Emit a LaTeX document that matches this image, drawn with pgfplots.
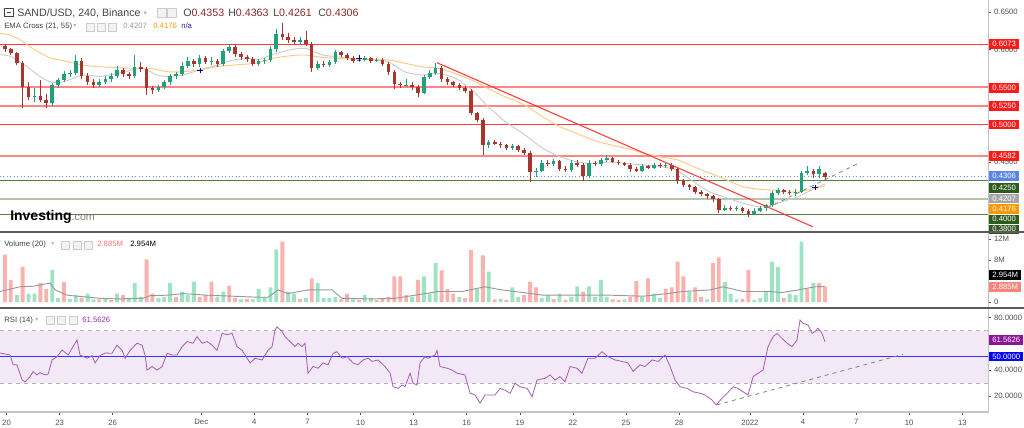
\documentclass[border=0pt]{standalone}
\usepackage{pgfplots}
\pgfplotsset{compat=1.18}
\usepackage{pgfplotstable}
\usepackage{fontspec}
\setmainfont{Liberation Sans}
\newfontfamily\symfont{DejaVu Sans}

\definecolor{cup}{HTML}{22A07A}
\definecolor{cdn}{HTML}{A8352E}
\definecolor{volup}{HTML}{9EE3C3}
\definecolor{voldn}{HTML}{FAB2AE}
\definecolor{emafastc}{HTML}{CBCBCB}
\definecolor{emaslowc}{HTML}{FFC985}
\definecolor{rsicol}{HTML}{A65CB8}
\definecolor{rsiband}{HTML}{F3E8F5}
\definecolor{lvlred}{HTML}{FF3B3B}
\definecolor{lvlpink}{HTML}{FF8585}
\definecolor{lvlgreen}{HTML}{5E7D46}
\definecolor{lvlsage}{HTML}{B6C4AA}
\definecolor{pricebl}{HTML}{6C8EE8}
\definecolor{tickgray}{HTML}{505050}
\definecolor{sepgray}{HTML}{5A5A5A}
\definecolor{framegray}{HTML}{C4C4C4}
\definecolor{valred}{HTML}{8B2A2A}
\definecolor{hdr}{HTML}{444444}
\definecolor{trendgray}{HTML}{7A8A7A}
\definecolor{boxred}{HTML}{FF1A1A}
\definecolor{boxblue}{HTML}{5B86E6}
\definecolor{boxgreen}{HTML}{2F5A1E}
\definecolor{boxgray}{HTML}{A6A6A6}
\definecolor{boxorange}{HTML}{FF9800}
\definecolor{boxsalmon}{HTML}{F8837B}
\definecolor{boxpurple}{HTML}{8E1599}
\definecolor{boxrsiblue}{HTML}{0000FF}
\definecolor{txtgray}{HTML}{9A9A9A}
\definecolor{txtnavy}{HTML}{2A2A9A}
\definecolor{txtsalmon}{HTML}{F4766E}
\definecolor{txtpurple}{HTML}{9C27B0}

\pgfplotstableread{
d o h l c
1.58 .536 .548 .530 .538
2.58 .528 .555 .524 .552
2.91 .552 .562 .549 .559
3.24 .559 .571 .556 .567
3.58 .567 .573 .563 .569
3.91 .569 .593 .566 .585
5.24 .553 .561 .550 .557
5.58 .557 .564 .554 .560
5.91 .560 .568 .557 .565
6.24 .565 .578 .562 .572
7.24 .564 .593 .562 .576
8.58 .546 .553 .543 .550
8.91 .550 .559 .547 .556
9.24 .556 .567 .553 .564
9.58 .564 .570 .561 .567
9.91 .567 .583 .564 .578
10.24 .578 .590 .575 .584
10.91 .580 .592 .577 .588
11.58 .583 .590 .579 .584
12.24 .581 .601 .578 .598
12.58 .598 .607 .595 .603
14.24 .581 .587 .578 .584
14.58 .584 .589 .581 .586
14.91 .586 .604 .583 .600
15.24 .600 .627 .597 .620
16.58 .610 .617 .607 .613
17.58 .575 .584 .572 .581
18.24 .579 .586 .576 .583
18.58 .583 .599 .580 .596
19.91 .585 .589 .583 .586
20.24 .586 .591 .584 .588
20.91 .585 .588 .583 .586
22.58 .552 .561 .550 .553
23.58 .542 .566 .540 .563
23.91 .563 .572 .560 .569
24.24 .569 .582 .566 .575
27.24 .472 .479 .469 .476
28.58 .469 .474 .466 .471
29.91 .437 .442 .430 .438
30.24 .438 .452 .436 .449
30.91 .447 .454 .445 .451
31.91 .439 .452 .437 .449
32.91 .431 .452 .429 .449
33.58 .447 .455 .445 .452
33.91 .452 .459 .450 .455
35.91 .438 .447 .436 .444
36.58 .442 .448 .440 .446
37.24 .444 .448 .442 .446
40.58 .386 .392 .384 .389
41.24 .387 .391 .385 .388
42.24 .381 .388 .379 .385
42.58 .385 .391 .383 .388
42.91 .388 .394 .384 .392
43.24 .392 .411 .390 .408
43.58 .408 .415 .406 .412
44.58 .408 .414 .405 .410
44.91 .410 .438 .408 .435
45.24 .435 .444 .432 .438
45.91 .434 .445 .428 .440
}\candleup

\pgfplotstableread{
d o h l c
-0.09 .604 .607 .597 .600
0.24 .600 .602 .592 .595
0.58 .595 .597 .579 .582
0.91 .582 .584 .522 .550
1.24 .550 .556 .532 .536
1.91 .538 .559 .530 .533
2.24 .533 .540 .522 .528
4.24 .585 .588 .560 .565
4.58 .565 .568 .553 .557
4.91 .557 .560 .549 .553
6.58 .572 .575 .563 .567
6.91 .567 .570 .560 .564
7.58 .576 .583 .570 .574
7.91 .574 .577 .539 .548
8.24 .548 .551 .541 .546
10.58 .584 .587 .576 .580
11.24 .588 .591 .580 .583
11.91 .584 .587 .577 .581
12.91 .603 .606 .590 .594
13.24 .594 .597 .586 .590
13.58 .590 .593 .583 .587
13.91 .587 .590 .578 .581
15.58 .620 .635 .612 .617
15.91 .617 .622 .608 .612
16.24 .612 .616 .606 .610
16.91 .613 .625 .604 .607
17.24 .607 .610 .570 .575
17.91 .581 .584 .576 .579
18.91 .596 .598 .590 .593
19.24 .593 .595 .586 .589
19.58 .589 .591 .582 .585
20.58 .588 .590 .582 .585
21.24 .586 .588 .578 .581
21.58 .581 .583 .566 .570
21.91 .570 .572 .547 .554
22.24 .554 .556 .549 .552
22.91 .553 .556 .546 .550
23.24 .550 .552 .537 .542
24.58 .575 .578 .557 .561
24.91 .561 .563 .553 .556
25.24 .556 .558 .550 .553
25.58 .553 .555 .546 .549
25.91 .549 .551 .542 .545
26.24 .545 .547 .512 .515
26.58 .515 .517 .503 .506
26.91 .506 .508 .459 .472
27.58 .476 .479 .472 .474
27.91 .474 .477 .469 .472
28.24 .472 .474 .466 .469
28.91 .471 .473 .463 .466
29.24 .466 .468 .459 .462
29.58 .462 .464 .423 .437
30.58 .449 .452 .445 .447
31.24 .451 .453 .438 .441
31.58 .441 .444 .437 .439
32.24 .449 .452 .443 .446
32.58 .446 .448 .425 .431
33.24 .449 .451 .445 .447
34.24 .455 .457 .448 .450
34.58 .450 .452 .446 .448
34.91 .448 .450 .445 .446
35.24 .446 .449 .437 .440
35.58 .440 .443 .436 .438
36.24 .444 .446 .440 .442
36.91 .446 .448 .442 .444
37.58 .446 .448 .438 .441
37.91 .441 .443 .421 .425
38.24 .425 .427 .416 .419
38.58 .419 .421 .413 .416
38.91 .416 .418 .407 .410
39.24 .410 .412 .404 .407
39.58 .407 .409 .401 .404
39.91 .404 .406 .397 .400
40.24 .400 .402 .382 .386
40.91 .389 .391 .385 .387
41.58 .388 .390 .382 .385
41.91 .385 .387 .377 .381
43.91 .412 .414 .407 .410
44.24 .410 .413 .406 .408
45.58 .438 .441 .428 .434
46.24 .4353 .4363 .4261 .4306
}\candledn

\pgfplotstableread{
d v
0.58 1.3
1.24 1.6
1.58 1.6
2.58 6.1
2.91 0.8
3.58 0.6
3.91 1.3
4.58 1.6
4.91 0.5
5.58 0.6
6.24 1.6
6.91 0.8
7.24 3.6
7.58 1.0
8.58 0.8
8.91 1.0
9.24 3.6
9.91 2.0
10.24 1.3
10.58 3.9
11.91 1.0
12.24 2.0
13.24 0.5
13.91 0.5
14.24 2.5
14.58 1.0
14.91 2.8
15.24 10.0
15.91 2.0
16.24 1.6
16.91 0.8
17.58 3.6
17.91 0.8
18.24 0.8
18.58 1.0
19.58 0.5
20.24 1.3
20.58 0.8
22.91 1.0
23.58 4.9
23.91 1.6
24.24 7.4
25.58 1.0
26.58 2.5
27.24 5.8
27.91 0.6
28.58 2.8
28.91 1.0
30.24 0.8
30.58 1.3
31.24 1.6
31.91 1.0
32.24 3.0
32.91 3.0
33.24 1.0
33.58 4.2
33.91 1.0
34.91 0.5
35.91 1.0
36.58 1.6
36.91 0.8
38.58 2.0
39.58 0.5
40.58 3.8
40.91 1.6
41.24 0.5
42.24 0.4
42.58 0.8
42.91 2.0
43.24 7.7
43.58 6.7
44.24 1.6
44.58 1.3
44.91 11.5
45.58 3.6
}\volupt

\pgfplotstableread{
d v
-0.09 9.0
0.24 4.2
0.91 6.7
1.91 3.6
2.24 2.5
3.24 3.8
4.24 0.8
5.24 0.5
5.91 0.4
6.58 1.3
7.91 8.1
8.24 1.6
9.58 1.0
10.91 1.0
11.24 1.3
11.58 3.9
12.58 3.1
12.91 0.8
13.58 0.6
15.58 11.5
16.58 0.6
17.24 4.5
18.91 0.5
19.24 1.6
19.91 0.4
20.91 0.4
21.24 0.6
21.58 1.0
21.91 4.9
22.24 4.9
22.58 1.3
23.24 4.2
24.58 6.0
24.91 2.5
25.24 1.6
25.91 0.8
26.24 9.9
26.91 8.9
27.58 0.5
28.24 0.4
29.24 1.3
29.58 3.9
29.91 2.8
30.91 0.6
31.58 0.4
32.58 2.0
34.24 0.5
34.58 0.4
35.24 1.0
35.58 4.0
36.24 4.5
37.24 2.5
37.58 2.8
37.91 7.7
38.24 4.9
38.91 2.8
39.24 1.0
39.91 7.4
40.24 8.5
41.58 0.6
41.91 6.1
43.91 0.8
45.24 2.5
45.91 3.6
46.24 2.885
}\voldnt

\pgfplotstableread{
d v
-0.37 2.0
0.76 2.9
1.50 3.0
2.46 3.6
2.74 2.3
3.42 1.3
5.28 0.7
6.24 0.6
7.71 0.7
8.11 1.2
9.07 1.3
9.97 1.6
11.33 1.3
12.80 1.1
14.32 0.9
14.77 0.9
15.34 2.3
15.90 1.6
17.03 2.3
18.39 2.3
18.95 0.7
20.65 0.6
21.95 0.7
23.08 1.3
24.38 2.0
25.73 2.0
26.30 2.4
27.03 2.9
27.99 2.3
28.73 2.0
30.31 1.3
32.23 1.3
34.10 1.3
35.96 1.1
37.32 1.6
38.22 2.0
39.75 2.3
40.48 2.9
41.61 2.0
43.14 2.0
43.81 1.8
44.72 2.3
45.68 2.9
46.24 2.954
}\volma

\pgfplotstableread{
d p
-0.37 .593
0.20 .591
1.16 .577
1.89 .564
2.46 .557
3.02 .556
3.59 .560
4.32 .566
5.28 .564
6.24 .568
7.15 .573
7.71 .575
8.50 .566
9.07 .564
9.97 .566
10.93 .573
11.89 .579
12.80 .586
13.76 .588
14.32 .587
15.00 .593
15.90 .599
16.86 .6016
17.82 .593
18.73 .590
19.69 .587
20.65 .586
21.55 .584
22.51 .570
23.47 .566
24.38 .568
25.34 .562
26.30 .546
27.20 .524
28.16 .504
28.73 .495
29.41 .484
30.31 .468
31.27 .457
32.23 .450
33.14 .448
34.10 .450
35.06 .448
35.96 .446
36.92 .444
37.88 .439
38.79 .424
39.75 .410
40.71 .402
41.61 .395
42.58 .390
43.14 .392
43.81 .397
44.72 .404
45.68 .415
46.24 .4207
}\emafast

\pgfplotstableread{
d p
-0.37 .6216
0.20 .6193
0.76 .613
1.50 .601
2.46 .589
3.42 .584
4.32 .579
5.28 .577
6.24 .5757
7.15 .5749
8.11 .5749
9.07 .5704
9.97 .5704
10.93 .5727
11.89 .5771
12.80 .5793
14.04 .5816
15.00 .588
15.90 .5913
16.86 .5927
17.82 .5896
19.69 .587
21.55 .586
22.51 .5816
23.47 .577
24.38 .575
25.34 .568
26.30 .559
27.20 .548
28.16 .537
28.73 .532
29.41 .524
30.31 .510
31.27 .497
32.23 .488
33.14 .479
34.10 .473
35.06 .468
35.96 .462
36.92 .457
37.88 .453
38.79 .444
39.75 .435
40.71 .426
41.61 .417
42.58 .4136
43.14 .4127
43.81 .4104
44.72 .410
45.68 .415
46.24 .4176
}\emaslow

\pgfplotstableread{
d v
-0.37 53
0.20 51.5
0.37 44
0.59 44
0.88 32.4
1.05 31
1.33 35
1.50 38.8
1.72 36.3
1.89 38
2.18 36.3
2.35 37
2.57 47.7
2.85 50.2
3.14 55.3
3.48 51.5
3.70 56.6
3.98 63
4.15 51.5
4.55 49
4.83 51
5.00 45.4
5.28 51
5.57 53
5.96 52.8
6.24 59
6.53 55
6.70 49
6.98 55
7.37 60.5
7.66 59
7.83 51
7.94 40
8.22 42.7
8.50 40
8.79 42.7
9.07 52.8
9.35 51.5
9.63 51.5
9.92 57.9
10.20 61.7
10.54 60.5
10.76 65.5
11.05 60.5
11.33 61.7
11.61 59
11.89 55
12.18 68
12.46 67
12.74 68
13.02 57.9
13.31 55
13.76 45.4
14.04 49
14.44 47.7
14.77 55
15.00 57.9
15.17 70.6
15.28 73
15.57 69.4
15.73 65.5
16.02 61.7
16.30 57.9
16.47 60.5
16.70 57.9
16.86 60.5
17.03 37.6
17.32 42.7
17.60 41.4
17.88 45.4
18.16 44
18.45 52.8
18.67 54
18.96 49
19.24 50.2
19.58 45.4
19.86 44
20.14 47.7
20.42 49
20.65 46.6
20.99 47.7
21.38 42.7
21.67 37.6
21.84 27.3
22.12 26
22.35 28.6
22.51 27.3
22.80 37.6
22.97 30
23.19 28.6
23.36 45.4
23.64 50.2
23.81 49
24.21 51.5
24.32 55
24.49 42.7
24.89 41.4
25.17 40
25.45 37.6
25.90 36.3
26.19 22.3
26.47 21
26.75 14.7
27.03 21
27.32 21
27.60 21
27.88 26
28.16 24.7
28.45 22.3
28.73 30
29.01 27.3
29.41 26
29.69 19.7
29.97 32.4
30.42 33.7
30.71 36.3
30.99 32.4
31.27 35
31.55 31.1
31.84 42.7
32.23 41.4
32.51 37.6
32.85 49
33.25 49
33.64 54
33.98 50.2
34.38 47.7
34.77 46.6
35.11 45.4
35.40 39
35.79 44
36.07 42.7
36.47 47.7
36.81 46.6
37.20 51.5
37.49 42.7
37.77 32.4
38.05 27.3
38.45 26
38.79 23.4
39.18 22.3
39.46 21
39.86 17.1
40.09 13.4
40.42 18.4
40.71 22.3
41.05 27.3
41.33 26
41.61 23.4
41.89 21
42.18 35
42.46 37.6
42.74 40
43.02 57.9
43.31 65.5
43.53 68
43.81 64.2
44.10 60.5
44.38 57.9
44.66 63
44.83 78.2
45.00 75.7
45.28 74.4
45.51 68
45.68 69.4
45.85 72
46.07 68
46.24 61.56
}\rsidata

\newcommand\tickfont{\fontsize{5.8}{6.5}\selectfont}
\newcommand\hicon[3]{%
  \draw[draw=gray!40, fill=gray!10, line width=0.4pt] (#1pt,#2pt) rectangle ++(#3pt,#3pt);}
\tikzset{
  lbl/.style={anchor=west, text=white, font=\tickfont, inner xsep=2.3pt, inner ysep=0pt, minimum height=7.2pt},
  hd/.style={anchor=base west, inner sep=0pt},
}
\pgfplotsset{
  panel/.style={
    scale only axis, width=741pt, xmin=-0.37, xmax=55.45,
    anchor=south west, axis line style={draw=none},
    ytick pos=right, yticklabel pos=right,
    tick align=outside, major tick length=2.2pt,
    tick style={draw=tickgray, line width=0.4pt},
    yticklabel style={font=\tickfont, text=tickgray, anchor=west, inner sep=1pt, xshift=1.2pt},
    xticklabel style={font=\tickfont, text=tickgray},
    clip=true,
  },
}

\begin{document}
\begin{tikzpicture}
\useasboundingbox (0pt,0pt) rectangle (768pt,321pt);

% ---------------- price panel ----------------
\begin{axis}[panel, at={(0pt,147.75pt)}, height=173.25pt,
  ymin=0.358, ymax=0.666, xtick=\empty,
  ytick={0.45,0.60,0.65},
  yticklabels={0.4500,0.6000,0.6500}]
  \addplot[lvlred, line width=0.7pt] coordinates {(-0.37,0.6073) (55.45,0.6073)};
  \addplot[lvlpink, line width=1.3pt] coordinates {(-0.37,0.55) (55.45,0.55)};
  \addplot[lvlpink, line width=1.3pt] coordinates {(-0.37,0.525) (55.45,0.525)};
  \addplot[lvlred, line width=0.7pt] coordinates {(-0.37,0.50) (55.45,0.50)};
  \addplot[lvlpink, line width=1.3pt] coordinates {(-0.37,0.4582) (55.45,0.4582)};
  \addplot[lvlgreen, line width=0.6pt] coordinates {(-0.37,0.425) (55.45,0.425)};
  \addplot[lvlsage, line width=1.5pt] coordinates {(-0.37,0.40) (55.45,0.40)};
  \addplot[lvlgreen, line width=0.6pt] coordinates {(-0.37,0.38) (55.45,0.38)};
  \addplot[pricebl, line width=0.6pt, dotted] coordinates {(-0.37,0.4306) (55.45,0.4306)};
  \addplot[emafastc, line width=0.7pt, smooth, tension=0.4] table[x=d,y=p] {\emafast};
  \addplot[emaslowc, line width=0.7pt, smooth, tension=0.4] table[x=d,y=p] {\emaslow};
  \addplot[cup, line width=0.5pt, quiver={u=0, v=\thisrow{h}-\thisrow{l}}] table[x=d,y=l] {\candleup};
  \addplot[cdn, line width=0.5pt, quiver={u=0, v=\thisrow{h}-\thisrow{l}}] table[x=d,y=l] {\candledn};
  \addplot[cup, line width=2.7pt, quiver={u=0, v=\thisrow{c}-\thisrow{o}}] table[x=d,y=o] {\candleup};
  \addplot[cdn, line width=2.7pt, quiver={u=0, v=\thisrow{c}-\thisrow{o}}] table[x=d,y=o] {\candledn};
  \addplot[lvlred, line width=0.8pt] coordinates {(24.32,0.5824) (45.55,0.3637)};
  \addplot[trendgray, line width=0.6pt, dashed] coordinates {(42.97,0.3887) (48.05,0.4473)};
  \addplot[only marks, mark=+, mark size=2pt, color=blue!60!black, line width=0.6pt]
    coordinates {(10.93,0.5717) (19.92,0.5887) (45.68,0.4157)};
\end{axis}

% ---------------- volume panel ----------------
\begin{axis}[panel, at={(0pt,90.75pt)}, height=55.5pt,
  ymin=-0.95, ymax=13.14, xtick=\empty,
  ytick={0,8,12}, yticklabels={0,8M,12M}]
  \addplot[ybar, bar width=0.22, bar shift=0pt, fill=volup, draw=none] table[x=d,y=v] {\volupt};
  \addplot[ybar, bar width=0.22, bar shift=0pt, fill=voldn, draw=none] table[x=d,y=v] {\voldnt};
  \addplot[gray!80, line width=0.7pt] table[x=d,y=v] {\volma};
\end{axis}

% ---------------- RSI panel ----------------
\begin{axis}[panel, at={(0pt,12pt)}, height=77.25pt,
  ymin=8.0, ymax=86.6,
  ytick={20,40,80}, yticklabels={20.0000,40.0000,80.0000},
  xtick pos=left,
  xtick={0,3,6,11,14,17,20,23,26,29,32,35,38,42,45,48,51,54},
  xticklabels={20,23,26,Dec,4,7,10,13,16,19,22,25,28,2022,4,7,10,13}]
  \fill[rsiband] (axis cs:-0.37,30) rectangle (axis cs:55.45,70);
  \addplot[gray!60, line width=0.6pt, dashed] coordinates {(-0.37,70) (55.45,70)};
  \addplot[gray!60, line width=0.6pt, dashed] coordinates {(-0.37,30) (55.45,30)};
  \addplot[blue!80, line width=0.7pt] coordinates {(-0.37,50) (55.45,50)};
  \addplot[trendgray, line width=0.6pt, dashed] coordinates {(40.12,13.4) (50.65,52)};
  \addplot[rsicol, line width=0.6pt] table[x=d,y=v] {\rsidata};
\end{axis}

% ---------------- frame ----------------
\draw[framegray, line width=1.2pt] (741.4pt,12pt) -- (741.4pt,321pt);
\draw[framegray, line width=0.9pt] (0pt,12pt) -- (741.4pt,12pt);

% ---------------- right labels ----------------
\node[lbl, fill=boxred] at (741.75pt,288.2pt) {0.6073};
\node[lbl, fill=boxred] at (741.75pt,255.2pt) {0.5500};
\node[lbl, fill=boxred] at (741.75pt,241.5pt) {0.5250};
\node[lbl, fill=boxred] at (741.75pt,227.5pt) {0.5000};
\node[lbl, fill=boxred] at (741.75pt,204.2pt) {0.4582};
\node[lbl, fill=boxblue] at (741.75pt,189pt) {0.4306};
\node[lbl, fill=boxgreen] at (741.75pt,180.2pt) {0.4250};
\node[lbl, fill=boxgray] at (741.75pt,172pt) {0.4207};
\node[lbl, fill=boxorange] at (741.75pt,164.25pt) {0.4176};
\node[lbl, fill=boxgreen] at (741.75pt,156.5pt) {0.4000};
\node[lbl, fill=boxgreen] at (741.75pt,149pt) {0.3800};
\node[lbl, fill=black] at (741.75pt,114.75pt) {2.954M};
\node[lbl, fill=boxsalmon] at (741.75pt,105.75pt) {2.885M};
\node[lbl, fill=boxpurple] at (741.75pt,66pt) {61.5626};
\node[lbl, fill=boxrsiblue] at (741.75pt,53.5pt) {50.0000};

% ---------------- separators ----------------
\draw[sepgray, line width=2pt] (0pt,147pt) -- (768pt,147pt);
\draw[sepgray, line width=2pt] (0pt,90pt) -- (768pt,90pt);

% ---------------- headers ----------------
\draw[hdr, line width=0.5pt] (3.5pt,308.4pt) rectangle (10pt,314.8pt);
\draw[hdr, line width=0.5pt] (4.9pt,311.6pt) -- (8.6pt,311.6pt);
\node[hd, font=\fontsize{8}{9}\selectfont, text=hdr] at (12.75pt,308.6pt) {SAND/USD, 240, Binance};
\node[hd, font=\symfont\fontsize{5}{6}\selectfont, text=gray!60] at (107.5pt,309.6pt) {▾};
\hicon{117.75}{308.25}{6.6}
\hicon{125.25}{308.25}{6.6}
\node[hd, font=\fontsize{8}{9}\selectfont] at (137.25pt,308.6pt) {\textcolor{hdr}{O}\textcolor{valred}{0.4353}};
\node[hd, font=\fontsize{8}{9}\selectfont] at (171pt,308.6pt) {\textcolor{hdr}{H}\textcolor{valred}{0.4363}};
\node[hd, font=\fontsize{8}{9}\selectfont] at (204.75pt,308.6pt) {\textcolor{hdr}{L}\textcolor{valred}{0.4261}};
\node[hd, font=\fontsize{8}{9}\selectfont] at (238.5pt,308.6pt) {\textcolor{hdr}{C}\textcolor{valred}{0.4306}};

\node[hd, font=\fontsize{5.8}{6.5}\selectfont, text=hdr] at (3pt,299.6pt) {EMA Cross (21, 55)};
\node[hd, font=\symfont\fontsize{4.5}{5}\selectfont, text=gray!60] at (54.75pt,300.2pt) {▾};
\hicon{64.5}{297.75}{6}
\hicon{72.75}{297.75}{6}
\hicon{81}{297.75}{6}
\node[hd, font=\fontsize{5.8}{6.5}\selectfont, text=txtgray] at (92.25pt,299.6pt) {0.4207};
\node[hd, font=\fontsize{5.8}{6.5}\selectfont, text=boxorange] at (114.75pt,299.6pt) {0.4176};
\node[hd, font=\fontsize{5.8}{6.5}\selectfont, text=txtnavy] at (135.75pt,299.6pt) {n/a};

\node[hd, font=\bfseries\fontsize{10.5}{12}\selectfont, text=black] at (7.5pt,155.25pt) {Investing\textcolor{gray}{\mdseries\fontsize{8}{9}\selectfont.com}};

\node[hd, font=\fontsize{5.8}{6.5}\selectfont, text=hdr] at (3pt,136.1pt) {Volume (20)};
\node[hd, font=\symfont\fontsize{4.5}{5}\selectfont, text=gray!60] at (38.25pt,136.7pt) {▾};
\hicon{45.75}{134.25}{6}
\hicon{54.75}{134.25}{6}
\hicon{63}{134.25}{6}
\node[hd, font=\fontsize{5.8}{6.5}\selectfont, text=txtsalmon] at (72.75pt,136.1pt) {2.885M};
\node[hd, font=\fontsize{5.8}{6.5}\selectfont, text=black] at (97.5pt,136.1pt) {2.954M};

\node[hd, font=\fontsize{5.8}{6.5}\selectfont, text=hdr] at (3pt,79.1pt) {RSI (14)};
\node[hd, font=\symfont\fontsize{4.5}{5}\selectfont, text=gray!60] at (26.25pt,79.7pt) {▾};
\hicon{34.5}{78}{6}
\hicon{42.75}{78}{6}
\hicon{51.75}{78}{6}
\node[hd, font=\fontsize{5.8}{6.5}\selectfont, text=txtpurple] at (61.5pt,79.1pt) {61.5626};
\end{tikzpicture}
\end{document}
